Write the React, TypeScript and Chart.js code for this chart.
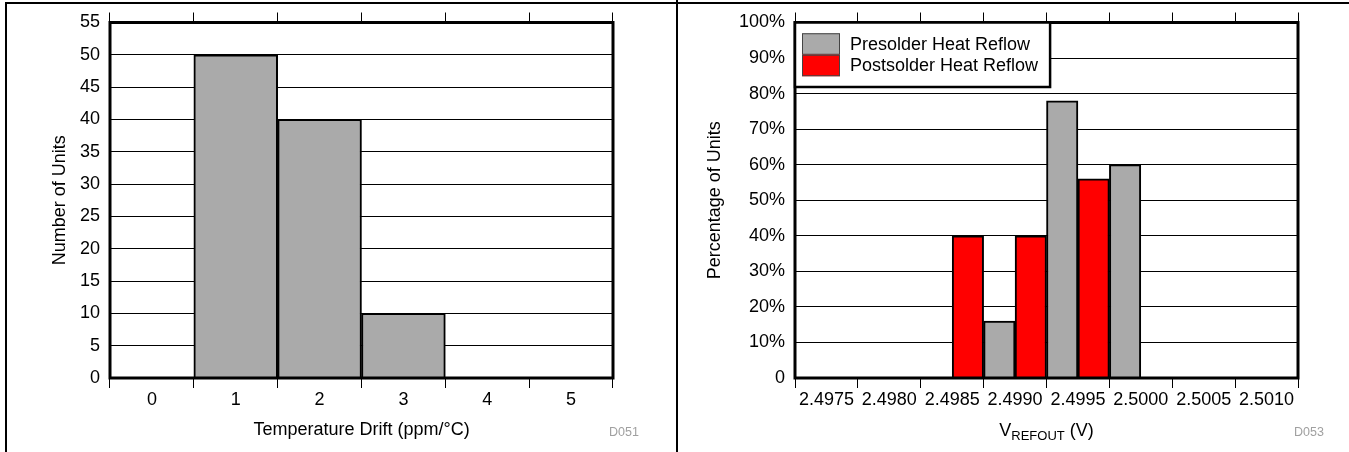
import React, { useEffect, useRef } from "react";
import { Chart, registerables } from "chart.js";

Chart.register(...registerables);

// ---------- data ----------
const driftLabels = ["0", "1", "2", "3", "4", "5"];
const driftUnits = [0, 50, 40, 10, 0, 0];
const driftYMax = 55;
const driftYStep = 5;

const vrefLabels = ["2.4975", "2.4980", "2.4985", "2.4990", "2.4995", "2.5000", "2.5005", "2.5010"];
const presolderPct = [0, 0, 0, 16, 78, 60, 0, 0];
const postsolderPct = [0, 0, 40, 40, 56, 0, 0, 0];
const seriesNames = ["Presolder Heat Reflow", "Postsolder Heat Reflow"];
const pctYMax = 100;
const pctYStep = 10;

const FONT = "'Liberation Sans', Arial, Helvetica, sans-serif";
const GRAY = "#aaaaaa";
const RED = "#ff0000";

const plotFramePlugin = {
  id: "plotFrame",
  afterDatasetsDraw(chart: any) {
    const { ctx, chartArea: a } = chart;
    ctx.save();
    ctx.strokeStyle = "#000";
    ctx.lineWidth = 3;
    ctx.strokeRect(a.left, a.top, a.right - a.left, a.bottom - a.top);
    ctx.restore();
  },
  afterDraw(chart: any, _args: any, opts: any) {
    const { ctx, chartArea: a } = chart;
    ctx.save();
    ctx.textAlign = "left";
    ctx.textBaseline = "alphabetic";
    if (opts.tag) {
      ctx.font = `12.5px ${FONT}`;
      ctx.fillStyle = "#a0a0a0";
      ctx.fillText(opts.tag, a.right - 4, opts.baseline);
    }
    if (opts.subTitle) {
      const [main, sub, rest] = opts.subTitle;
      const big = `18px ${FONT}`;
      const small = `13px ${FONT}`;
      ctx.font = big;
      const w1 = ctx.measureText(main).width;
      const w3 = ctx.measureText(rest).width;
      ctx.font = small;
      const w2 = ctx.measureText(sub).width;
      let x = (a.left + a.right) / 2 - (w1 + w2 + w3) / 2;
      ctx.fillStyle = "#000";
      ctx.font = big;
      ctx.fillText(main, x, opts.baseline);
      x += w1;
      ctx.font = small;
      ctx.fillText(sub, x, opts.baseline + 3.5);
      x += w2;
      ctx.font = big;
      ctx.fillText(rest, x, opts.baseline);
    }
    if (opts.legend) {
      const ds = chart.data.datasets;
      ctx.font = `18px ${FONT}`;
      const textW = Math.max(...ds.map((d: any) => ctx.measureText(d.label).width));
      const sw = 38, sh = 21.5, padX = 7, padY = 10.75, gap = 10, padR = 12;
      const w = padX + sw + gap + textW + padR;
      const h = padY * 2 + sh * ds.length;
      const x0 = a.left, y0 = a.top;
      ctx.fillStyle = "#fff";
      ctx.fillRect(x0, y0, w, h);
      ctx.strokeStyle = "#000";
      ctx.lineWidth = 2.5;
      ctx.strokeRect(x0, y0, w, h);
      ds.forEach((d: any, i: number) => {
        const sy = y0 + padY + i * sh;
        ctx.fillStyle = d.backgroundColor;
        ctx.fillRect(x0 + padX, sy, sw, sh);
        ctx.strokeStyle = "#444";
        ctx.lineWidth = 1;
        ctx.strokeRect(x0 + padX + 0.5, sy + 0.5, sw - 1, sh - 1);
        ctx.fillStyle = "#000";
        ctx.textBaseline = "middle";
        ctx.fillText(d.label, x0 + padX + sw + gap, sy + sh / 2 + 1);
      });
    }
    ctx.restore();
  },
};

function baseOptions(opts: {
  yMax: number;
  yStep: number;
  yTitle: string;
  yFmt: (v: number) => string;
  xTitle: string | null;
  padLeft: number;
  padRight: number;
  yWidth: number;
  plot: any;
}) {
  const tickFont = { family: FONT, size: 18 };
  return {
    responsive: false,
    animation: false as const,
    devicePixelRatio: 1,
    layout: { padding: { left: opts.padLeft, right: opts.padRight, top: 0, bottom: 0 } },
    plugins: {
      legend: { display: false },
      tooltip: { enabled: false },
      plotFrame: opts.plot,
    },
    scales: {
      x: {
        type: "category",
        position: "bottom",
        offset: true,
        grid: { offset: true, drawOnChartArea: false, drawTicks: true, tickLength: 10, color: "#000", lineWidth: 1 },
        border: { display: false },
        ticks: { color: "#000", font: tickFont, padding: 1, maxRotation: 0, autoSkip: false },
        title: opts.xTitle
          ? { display: true, text: opts.xTitle, color: "#000", font: tickFont, padding: { top: 0, bottom: 11 } }
          : { display: false },
        afterFit(s: any) {
          s.height = 74;
        },
      },
      x2: {
        type: "category",
        position: "top",
        offset: true,
        grid: { offset: true, drawOnChartArea: false, drawTicks: true, tickLength: 10, color: "#000", lineWidth: 1 },
        border: { display: false },
        ticks: { display: false },
        afterFit(s: any) {
          s.height = 22.5;
        },
      },
      y: {
        min: 0,
        max: opts.yMax,
        ticks: {
          stepSize: opts.yStep,
          padding: 10,
          color: "#000",
          font: tickFont,
          callback: (v: any) => opts.yFmt(Number(v)),
        },
        grid: { color: "#000", lineWidth: 1, drawTicks: false },
        border: { display: false },
        title: { display: true, text: opts.yTitle, color: "#000", font: tickFont, padding: { top: 4, bottom: 4 } },
        afterFit(s: any) {
          s.width = opts.yWidth;
        },
      },
    },
  };
}

function DriftChart() {
  const ref = useRef<HTMLCanvasElement>(null);
  useEffect(() => {
    const chart = new Chart(ref.current!, {
      type: "bar",
      data: {
        labels: driftLabels,
        datasets: [
          {
            label: "Units",
            data: driftUnits,
            backgroundColor: GRAY,
            borderColor: "#000",
            borderWidth: 2,
            categoryPercentage: 1,
            barPercentage: 1,
          },
        ],
      },
      options: baseOptions({
        yMax: driftYMax,
        yStep: driftYStep,
        yTitle: "Number of Units",
        yFmt: (v) => String(v),
        xTitle: "Temperature Drift (ppm/°C)",
        padLeft: 45,
        padRight: 63,
        yWidth: 65,
        plot: { tag: "D051", baseline: 436 },
      }) as any,
      plugins: [plotFramePlugin],
    });
    return () => chart.destroy();
  }, []);
  return (
    <canvas
      ref={ref}
      width={676}
      height={452}
      style={{ position: "absolute", left: 0, top: 0, width: 676, height: 452 }}
    />
  );
}

function VrefChart() {
  const ref = useRef<HTMLCanvasElement>(null);
  useEffect(() => {
    const chart = new Chart(ref.current!, {
      type: "bar",
      data: {
        labels: vrefLabels,
        datasets: [
          {
            label: seriesNames[0],
            data: presolderPct,
            backgroundColor: GRAY,
            borderColor: "#000",
            borderWidth: 2,
            categoryPercentage: 1,
            barPercentage: 1,
          },
          {
            label: seriesNames[1],
            data: postsolderPct,
            backgroundColor: RED,
            borderColor: "#000",
            borderWidth: 2,
            categoryPercentage: 1,
            barPercentage: 1,
          },
        ],
      },
      options: baseOptions({
        yMax: pctYMax,
        yStep: pctYStep,
        yTitle: "Percentage of Units",
        yFmt: (v) => (v === 0 ? "0" : `${v}%`),
        xTitle: null,
        padLeft: 22,
        padRight: 51,
        yWidth: 95,
        plot: { tag: "D053", baseline: 436, legend: true, subTitle: ["V", "REFOUT", " (V)"] },
      }) as any,
      plugins: [plotFramePlugin],
    });
    return () => chart.destroy();
  }, []);
  return (
    <canvas
      ref={ref}
      width={671}
      height={452}
      style={{ position: "absolute", left: 678, top: 0, width: 671, height: 452 }}
    />
  );
}

export default function App() {
  return (
    <div
      style={{
        position: "absolute",
        left: 0,
        top: 0,
        width: 1349,
        height: 452,
        background: "#fff",
        overflow: "hidden",
      }}
    >
      <div style={{ position: "absolute", left: 5, top: 2, width: 1344, height: 2, background: "#000" }} />
      <div style={{ position: "absolute", left: 5, top: 2, width: 2, height: 450, background: "#000" }} />
      <div style={{ position: "absolute", left: 676, top: 0, width: 2, height: 452, background: "#000" }} />
      <DriftChart />
      <VrefChart />
    </div>
  );
}
